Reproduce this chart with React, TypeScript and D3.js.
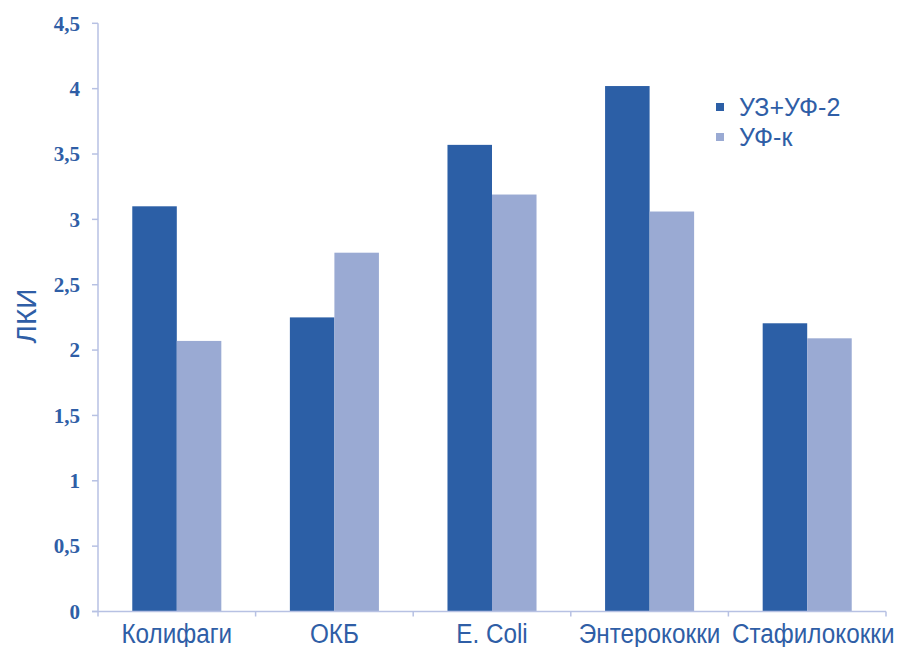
import React from "react";
import * as d3 from "d3";

const categories = ["Колифаги", "ОКБ", "E. Coli", "Энтерококки", "Стафилококки"];
const seriesNames = ["УЗ+УФ-2", "УФ-к"];
const seriesUZUF2 = [3.1, 2.25, 3.57, 4.02, 2.205];
const seriesUFk = [2.07, 2.745, 3.19, 3.06, 2.09];
const yTicks = [0, 0.5, 1, 1.5, 2, 2.5, 3, 3.5, 4, 4.5];
const yLabel = "ЛКИ";

const colors = ["#2c5fa6", "#9aaad3"];
const axisColor = "#b7c1e3";
const textColor = "#2f5ea6";

const W = 900;
const H = 647;
const left = 98;
const right = 886;
const top = 23.3;
const bottom = 611.5;

export default function App() {
  const x0 = d3.scaleBand<string>().domain(categories).range([left, right]).padding(0);
  const bw = x0.bandwidth();
  const groupW = bw * 0.565;
  const x1 = d3
    .scaleBand<string>()
    .domain(seriesNames)
    .range([(bw - groupW) / 2, (bw + groupW) / 2])
    .padding(0);
  const y = d3.scaleLinear().domain([0, 4.5]).range([bottom, top]);
  const series = [seriesUZUF2, seriesUFk];
  const fmt = (v: number) => String(v).replace(".", ",");

  return (
    <svg
      width={W}
      height={H}
      style={{ position: "absolute", left: 0, top: 0, background: "#fff" }}
    >
      {/* bars */}
      {categories.map((c, i) => (
        <g key={c} transform={`translate(${x0(c)},0)`}>
          {seriesNames.map((s, j) => (
            <rect
              key={s}
              x={x1(s)}
              y={y(series[j][i])}
              width={x1.bandwidth()}
              height={y(0) - y(series[j][i])}
              fill={colors[j]}
            />
          ))}
        </g>
      ))}

      {/* y axis */}
      <line x1={left} x2={left} y1={top} y2={bottom} stroke={axisColor} strokeWidth={1.5} />
      {yTicks.map((t) => (
        <g key={t}>
          <line x1={left - 6} x2={left} y1={y(t)} y2={y(t)} stroke={axisColor} strokeWidth={1.5} />
          <text
            x={80}
            y={y(t)}
            dy="0.35em"
            textAnchor="end"
            fontFamily="'Liberation Serif', 'Times New Roman', serif"
            fontWeight="bold"
            fontSize={21}
            fill={textColor}
          >
            {fmt(t)}
          </text>
        </g>
      ))}

      {/* x axis */}
      <line x1={left - 6} x2={right} y1={bottom} y2={bottom} stroke={axisColor} strokeWidth={1.5} />
      {[...categories.map((c) => x0(c) as number), right].map((xv, i) => (
        <line key={i} x1={xv} x2={xv} y1={bottom} y2={bottom + 5} stroke={axisColor} strokeWidth={1.5} />
      ))}
      {categories.map((c) => (
        <text
          key={c}
          transform={`translate(${(x0(c) as number) + bw / 2 + (c === "Стафилококки" ? 6 : 0)},643) scale(0.9,1)`}
          textAnchor="middle"
          fontFamily="'Liberation Sans', Arial, sans-serif"
          fontSize={27}
          fill={textColor}
        >
          {c}
        </text>
      ))}

      {/* y label */}
      <text
        transform="translate(36,316) rotate(-90)"
        textAnchor="middle"
        fontFamily="'Liberation Sans', Arial, sans-serif"
        fontSize={28}
        fill={textColor}
      >
        {yLabel}
      </text>

      {/* legend */}
      {seriesNames.map((s, j) => (
        <g key={s} transform={`translate(716,${107 + j * 30})`}>
          <rect x={0} y={-4} width={8} height={8} fill={colors[j]} />
          <text
            x={23}
            y={0}
            dy="0.35em"
            fontFamily="'Liberation Sans', Arial, sans-serif"
            fontSize={25}
            fill={textColor}
          >
            {s}
          </text>
        </g>
      ))}
    </svg>
  );
}
